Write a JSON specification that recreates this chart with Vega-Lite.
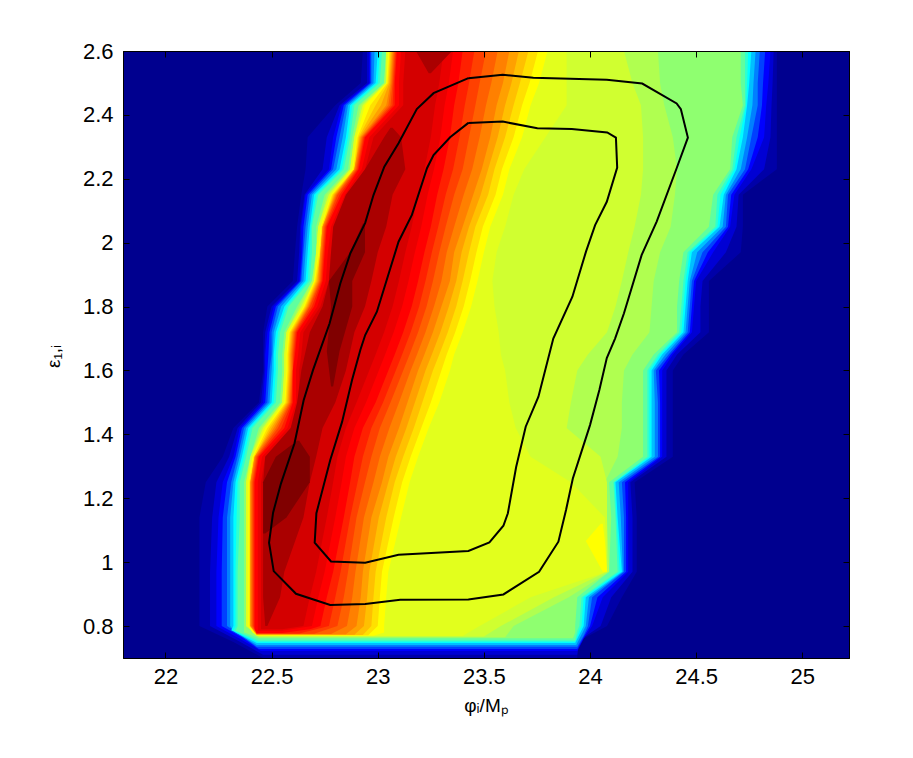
{"$schema":"https://vega.github.io/schema/vega-lite/v6.json","width":726,"height":607,"autosize":"none","padding":{"left":123,"top":51,"right":64,"bottom":100},"background":"white","view":{"fill":"#00008f","stroke":"black"},"config":{"font":"Liberation Sans"},
"datasets":{"levels":[
{"level":"a","y":0.7,"xl":22.46,"xr":23.94},{"level":"a","y":0.75,"xl":22.32,"xr":23.94},{"level":"a","y":0.8,"xl":22.16,"xr":24.08},{"level":"a","y":0.89,"xl":22.16,"xr":24.15},{"level":"a","y":0.97,"xl":22.16,"xr":24.22},{"level":"a","y":1.14,"xl":22.16,"xr":24.22},{"level":"a","y":1.25,"xl":22.19,"xr":24.21},{"level":"a","y":1.33,"xl":22.27,"xr":24.39},{"level":"a","y":1.42,"xl":22.32,"xr":24.39},{"level":"a","y":1.5,"xl":22.44,"xr":24.39},{"level":"a","y":1.6,"xl":22.46,"xr":24.39},{"level":"a","y":1.65,"xl":22.46,"xr":24.44},{"level":"a","y":1.72,"xl":22.46,"xr":24.56},{"level":"a","y":1.8,"xl":22.48,"xr":24.56},{"level":"a","y":1.88,"xl":22.6,"xr":24.56},{"level":"a","y":1.97,"xl":22.61,"xr":24.71},{"level":"a","y":2.05,"xl":22.62,"xr":24.72},{"level":"a","y":2.15,"xl":22.64,"xr":24.72},{"level":"a","y":2.23,"xl":22.66,"xr":24.88},{"level":"a","y":2.33,"xl":22.67,"xr":24.88},{"level":"a","y":2.43,"xl":22.8,"xr":24.88},{"level":"a","y":2.5,"xl":22.92,"xr":24.88},{"level":"a","y":2.6,"xl":22.93,"xr":24.88},
{"level":"a2","y":0.71,"xl":22.46,"xr":23.94},{"level":"a2","y":0.755,"xl":22.34,"xr":23.95},{"level":"a2","y":0.8,"xl":22.21,"xr":24.05},{"level":"a2","y":0.89,"xl":22.21,"xr":24.1},{"level":"a2","y":0.97,"xl":22.21,"xr":24.2},{"level":"a2","y":1.14,"xl":22.22,"xr":24.2},{"level":"a2","y":1.25,"xl":22.24,"xr":24.19},{"level":"a2","y":1.33,"xl":22.3,"xr":24.36},{"level":"a2","y":1.42,"xl":22.34,"xr":24.36},{"level":"a2","y":1.5,"xl":22.45,"xr":24.36},{"level":"a2","y":1.6,"xl":22.465,"xr":24.36},{"level":"a2","y":1.65,"xl":22.465,"xr":24.41},{"level":"a2","y":1.72,"xl":22.47,"xr":24.52},{"level":"a2","y":1.8,"xl":22.5,"xr":24.52},{"level":"a2","y":1.88,"xl":22.62,"xr":24.53},{"level":"a2","y":1.97,"xl":22.63,"xr":24.64},{"level":"a2","y":2.05,"xl":22.635,"xr":24.69},{"level":"a2","y":2.15,"xl":22.655,"xr":24.7},{"level":"a2","y":2.23,"xl":22.74,"xr":24.82},{"level":"a2","y":2.33,"xl":22.76,"xr":24.85},{"level":"a2","y":2.43,"xl":22.82,"xr":24.855},{"level":"a2","y":2.5,"xl":22.95,"xr":24.86},{"level":"a2","y":2.6,"xl":22.95,"xr":24.865},
{"level":"b","y":0.722,"xl":22.45,"xr":23.94},{"level":"b","y":0.76,"xl":22.35,"xr":23.97},{"level":"b","y":0.8,"xl":22.24,"xr":24.01},{"level":"b","y":0.89,"xl":22.24,"xr":24.06},{"level":"b","y":0.97,"xl":22.24,"xr":24.18},{"level":"b","y":1.14,"xl":22.25,"xr":24.18},{"level":"b","y":1.25,"xl":22.27,"xr":24.18},{"level":"b","y":1.33,"xl":22.32,"xr":24.34},{"level":"b","y":1.42,"xl":22.35,"xr":24.34},{"level":"b","y":1.5,"xl":22.46,"xr":24.34},{"level":"b","y":1.6,"xl":22.47,"xr":24.34},{"level":"b","y":1.65,"xl":22.47,"xr":24.39},{"level":"b","y":1.72,"xl":22.48,"xr":24.48},{"level":"b","y":1.8,"xl":22.51,"xr":24.49},{"level":"b","y":1.88,"xl":22.63,"xr":24.5},{"level":"b","y":1.97,"xl":22.64,"xr":24.58},{"level":"b","y":2.05,"xl":22.64,"xr":24.66},{"level":"b","y":2.15,"xl":22.66,"xr":24.68},{"level":"b","y":2.23,"xl":22.77,"xr":24.76},{"level":"b","y":2.33,"xl":22.79,"xr":24.82},{"level":"b","y":2.43,"xl":22.83,"xr":24.83},{"level":"b","y":2.5,"xl":22.96,"xr":24.84},{"level":"b","y":2.6,"xl":22.96,"xr":24.85},
{"level":"b2","y":0.728,"xl":22.44,"xr":23.94},{"level":"b2","y":0.765,"xl":22.36,"xr":23.97},{"level":"b2","y":0.8,"xl":22.265,"xr":24},{"level":"b2","y":0.89,"xl":22.265,"xr":24.035},{"level":"b2","y":0.97,"xl":22.265,"xr":24.17},{"level":"b2","y":1.14,"xl":22.27,"xr":24.17},{"level":"b2","y":1.25,"xl":22.29,"xr":24.165},{"level":"b2","y":1.33,"xl":22.33,"xr":24.33},{"level":"b2","y":1.42,"xl":22.36,"xr":24.33},{"level":"b2","y":1.5,"xl":22.47,"xr":24.33},{"level":"b2","y":1.6,"xl":22.48,"xr":24.325},{"level":"b2","y":1.65,"xl":22.485,"xr":24.38},{"level":"b2","y":1.72,"xl":22.49,"xr":24.47},{"level":"b2","y":1.8,"xl":22.52,"xr":24.48},{"level":"b2","y":1.88,"xl":22.635,"xr":24.49},{"level":"b2","y":1.97,"xl":22.645,"xr":24.555},{"level":"b2","y":2.05,"xl":22.65,"xr":24.65},{"level":"b2","y":2.15,"xl":22.67,"xr":24.665},{"level":"b2","y":2.23,"xl":22.78,"xr":24.745},{"level":"b2","y":2.33,"xl":22.805,"xr":24.79},{"level":"b2","y":2.43,"xl":22.84,"xr":24.81},{"level":"b2","y":2.5,"xl":22.965,"xr":24.815},{"level":"b2","y":2.6,"xl":22.965,"xr":24.825},
{"level":"c","y":0.735,"xl":22.43,"xr":23.94},{"level":"c","y":0.77,"xl":22.36,"xr":23.97},{"level":"c","y":0.8,"xl":22.29,"xr":23.99},{"level":"c","y":0.89,"xl":22.29,"xr":24.01},{"level":"c","y":0.97,"xl":22.29,"xr":24.16},{"level":"c","y":1.14,"xl":22.29,"xr":24.16},{"level":"c","y":1.25,"xl":22.31,"xr":24.15},{"level":"c","y":1.33,"xl":22.34,"xr":24.32},{"level":"c","y":1.42,"xl":22.37,"xr":24.32},{"level":"c","y":1.5,"xl":22.48,"xr":24.32},{"level":"c","y":1.6,"xl":22.49,"xr":24.31},{"level":"c","y":1.65,"xl":22.5,"xr":24.37},{"level":"c","y":1.72,"xl":22.5,"xr":24.46},{"level":"c","y":1.8,"xl":22.53,"xr":24.47},{"level":"c","y":1.88,"xl":22.64,"xr":24.48},{"level":"c","y":1.97,"xl":22.65,"xr":24.53},{"level":"c","y":2.05,"xl":22.66,"xr":24.64},{"level":"c","y":2.15,"xl":22.68,"xr":24.65},{"level":"c","y":2.23,"xl":22.79,"xr":24.73},{"level":"c","y":2.33,"xl":22.82,"xr":24.76},{"level":"c","y":2.43,"xl":22.85,"xr":24.79},{"level":"c","y":2.5,"xl":22.97,"xr":24.79},{"level":"c","y":2.6,"xl":22.97,"xr":24.8},
{"level":"c2","y":0.741,"xl":22.43,"xr":23.935},{"level":"c2","y":0.78,"xl":22.33,"xr":23.965},{"level":"c2","y":0.8,"xl":22.305,"xr":23.98},{"level":"c2","y":0.89,"xl":22.305,"xr":23.995},{"level":"c2","y":0.97,"xl":22.305,"xr":24.155},{"level":"c2","y":1.14,"xl":22.305,"xr":24.145},{"level":"c2","y":1.25,"xl":22.32,"xr":24.135},{"level":"c2","y":1.33,"xl":22.35,"xr":24.305},{"level":"c2","y":1.42,"xl":22.38,"xr":24.305},{"level":"c2","y":1.5,"xl":22.49,"xr":24.305},{"level":"c2","y":1.6,"xl":22.5,"xr":24.3},{"level":"c2","y":1.65,"xl":22.505,"xr":24.355},{"level":"c2","y":1.72,"xl":22.51,"xr":24.45},{"level":"c2","y":1.8,"xl":22.545,"xr":24.46},{"level":"c2","y":1.88,"xl":22.65,"xr":24.47},{"level":"c2","y":1.97,"xl":22.66,"xr":24.505},{"level":"c2","y":2.05,"xl":22.67,"xr":24.625},{"level":"c2","y":2.15,"xl":22.69,"xr":24.64},{"level":"c2","y":2.23,"xl":22.805,"xr":24.71},{"level":"c2","y":2.33,"xl":22.835,"xr":24.74},{"level":"c2","y":2.43,"xl":22.86,"xr":24.765},{"level":"c2","y":2.5,"xl":22.98,"xr":24.77},{"level":"c2","y":2.6,"xl":22.985,"xr":24.78},
{"level":"d","y":0.747,"xl":22.43,"xr":23.93},{"level":"d","y":0.787,"xl":22.31,"xr":23.96},{"level":"d","y":0.8,"xl":22.32,"xr":23.97},{"level":"d","y":0.89,"xl":22.32,"xr":23.98},{"level":"d","y":0.97,"xl":22.32,"xr":24.15},{"level":"d","y":1.14,"xl":22.32,"xr":24.13},{"level":"d","y":1.25,"xl":22.33,"xr":24.12},{"level":"d","y":1.33,"xl":22.36,"xr":24.29},{"level":"d","y":1.42,"xl":22.39,"xr":24.29},{"level":"d","y":1.5,"xl":22.5,"xr":24.29},{"level":"d","y":1.6,"xl":22.51,"xr":24.29},{"level":"d","y":1.65,"xl":22.51,"xr":24.34},{"level":"d","y":1.72,"xl":22.52,"xr":24.44},{"level":"d","y":1.8,"xl":22.56,"xr":24.45},{"level":"d","y":1.88,"xl":22.66,"xr":24.46},{"level":"d","y":1.97,"xl":22.67,"xr":24.48},{"level":"d","y":2.05,"xl":22.68,"xr":24.61},{"level":"d","y":2.15,"xl":22.7,"xr":24.63},{"level":"d","y":2.23,"xl":22.82,"xr":24.69},{"level":"d","y":2.33,"xl":22.85,"xr":24.72},{"level":"d","y":2.43,"xl":22.87,"xr":24.74},{"level":"d","y":2.5,"xl":22.99,"xr":24.75},{"level":"d","y":2.6,"xl":23,"xr":24.76},
{"level":"d2","y":0.751,"xl":22.435,"xr":23.93},{"level":"d2","y":0.786,"xl":22.32,"xr":23.95},{"level":"d2","y":0.8,"xl":22.33,"xr":23.96},{"level":"d2","y":0.89,"xl":22.33,"xr":23.97},{"level":"d2","y":0.97,"xl":22.33,"xr":24.14},{"level":"d2","y":1.14,"xl":22.335,"xr":24.125},{"level":"d2","y":1.25,"xl":22.34,"xr":24.115},{"level":"d2","y":1.33,"xl":22.37,"xr":24.28},{"level":"d2","y":1.42,"xl":22.4,"xr":24.28},{"level":"d2","y":1.5,"xl":22.51,"xr":24.28},{"level":"d2","y":1.6,"xl":22.52,"xr":24.28},{"level":"d2","y":1.65,"xl":22.52,"xr":24.33},{"level":"d2","y":1.72,"xl":22.53,"xr":24.43},{"level":"d2","y":1.8,"xl":22.57,"xr":24.44},{"level":"d2","y":1.88,"xl":22.67,"xr":24.45},{"level":"d2","y":1.97,"xl":22.68,"xr":24.47},{"level":"d2","y":2.05,"xl":22.685,"xr":24.6},{"level":"d2","y":2.15,"xl":22.71,"xr":24.615},{"level":"d2","y":2.23,"xl":22.83,"xr":24.68},{"level":"d2","y":2.33,"xl":22.86,"xr":24.705},{"level":"d2","y":2.43,"xl":22.88,"xr":24.735},{"level":"d2","y":2.5,"xl":23,"xr":24.74},{"level":"d2","y":2.6,"xl":23.01,"xr":24.745},
{"level":"e","y":0.755,"xl":22.44,"xr":23.93},{"level":"e","y":0.785,"xl":22.33,"xr":23.94},{"level":"e","y":0.8,"xl":22.34,"xr":23.95},{"level":"e","y":0.89,"xl":22.34,"xr":23.96},{"level":"e","y":0.97,"xl":22.34,"xr":24.13},{"level":"e","y":1.14,"xl":22.35,"xr":24.12},{"level":"e","y":1.25,"xl":22.35,"xr":24.11},{"level":"e","y":1.33,"xl":22.38,"xr":24.27},{"level":"e","y":1.42,"xl":22.41,"xr":24.27},{"level":"e","y":1.5,"xl":22.52,"xr":24.27},{"level":"e","y":1.6,"xl":22.53,"xr":24.27},{"level":"e","y":1.65,"xl":22.53,"xr":24.32},{"level":"e","y":1.72,"xl":22.54,"xr":24.42},{"level":"e","y":1.8,"xl":22.58,"xr":24.43},{"level":"e","y":1.88,"xl":22.68,"xr":24.44},{"level":"e","y":1.97,"xl":22.69,"xr":24.46},{"level":"e","y":2.05,"xl":22.69,"xr":24.59},{"level":"e","y":2.15,"xl":22.72,"xr":24.6},{"level":"e","y":2.23,"xl":22.84,"xr":24.67},{"level":"e","y":2.33,"xl":22.87,"xr":24.69},{"level":"e","y":2.43,"xl":22.89,"xr":24.73},{"level":"e","y":2.5,"xl":23.01,"xr":24.73},{"level":"e","y":2.6,"xl":23.02,"xr":24.73},
{"level":"f","y":0.762,"xl":22.44,"xr":23.92},{"level":"f","y":0.78,"xl":22.37,"xr":23.93},{"level":"f","y":0.8,"xl":22.37,"xr":23.93},{"level":"f","y":0.89,"xl":22.37,"xr":23.94},{"level":"f","y":0.97,"xl":22.37,"xr":24.09},{"level":"f","y":1.14,"xl":22.37,"xr":24.1},{"level":"f","y":1.25,"xl":22.37,"xr":24.09},{"level":"f","y":1.33,"xl":22.4,"xr":24.25},{"level":"f","y":1.42,"xl":22.44,"xr":24.25},{"level":"f","y":1.5,"xl":22.54,"xr":24.25},{"level":"f","y":1.6,"xl":22.55,"xr":24.25},{"level":"f","y":1.65,"xl":22.55,"xr":24.3},{"level":"f","y":1.72,"xl":22.56,"xr":24.41},{"level":"f","y":1.8,"xl":22.62,"xr":24.41},{"level":"f","y":1.88,"xl":22.69,"xr":24.42},{"level":"f","y":1.97,"xl":22.71,"xr":24.44},{"level":"f","y":2.05,"xl":22.71,"xr":24.56},{"level":"f","y":2.15,"xl":22.75,"xr":24.58},{"level":"f","y":2.23,"xl":22.86,"xr":24.66},{"level":"f","y":2.33,"xl":22.88,"xr":24.67},{"level":"f","y":2.43,"xl":22.91,"xr":24.72},{"level":"f","y":2.5,"xl":23.03,"xr":24.71},{"level":"f","y":2.6,"xl":23.04,"xr":24.71},
{"level":"g","y":0.765,"xl":22.44,"xr":23.6},{"level":"g","y":0.8,"xl":22.38,"xr":23.64},{"level":"g","y":0.89,"xl":22.38,"xr":23.9},{"level":"g","y":0.97,"xl":22.38,"xr":24.09},{"level":"g","y":1.14,"xl":22.38,"xr":24.08},{"level":"g","y":1.25,"xl":22.38,"xr":24.07},{"level":"g","y":1.33,"xl":22.4,"xr":24.13},{"level":"g","y":1.42,"xl":22.45,"xr":24.15},{"level":"g","y":1.5,"xl":22.55,"xr":24.15},{"level":"g","y":1.6,"xl":22.56,"xr":24.16},{"level":"g","y":1.65,"xl":22.56,"xr":24.2},{"level":"g","y":1.72,"xl":22.57,"xr":24.28},{"level":"g","y":1.8,"xl":22.63,"xr":24.29},{"level":"g","y":1.88,"xl":22.69,"xr":24.3},{"level":"g","y":1.97,"xl":22.71,"xr":24.33},{"level":"g","y":2.05,"xl":22.72,"xr":24.38},{"level":"g","y":2.15,"xl":22.76,"xr":24.4},{"level":"g","y":2.23,"xl":22.87,"xr":24.41},{"level":"g","y":2.33,"xl":22.89,"xr":24.39},{"level":"g","y":2.43,"xl":22.92,"xr":24.35},{"level":"g","y":2.5,"xl":23.03,"xr":24.33},{"level":"g","y":2.6,"xl":23.04,"xr":24.32},
{"level":"h","y":0.767,"xl":22.44,"xr":23.5},{"level":"h","y":0.8,"xl":22.38,"xr":23.58},{"level":"h","y":0.89,"xl":22.38,"xr":23.83},{"level":"h","y":0.97,"xl":22.38,"xr":24.08},{"level":"h","y":1.14,"xl":22.38,"xr":24.08},{"level":"h","y":1.25,"xl":22.38,"xr":24.08},{"level":"h","y":1.33,"xl":22.4,"xr":24.05},{"level":"h","y":1.42,"xl":22.46,"xr":23.89},{"level":"h","y":1.5,"xl":22.55,"xr":23.91},{"level":"h","y":1.6,"xl":22.56,"xr":23.94},{"level":"h","y":1.65,"xl":22.56,"xr":23.99},{"level":"h","y":1.72,"xl":22.57,"xr":24.08},{"level":"h","y":1.8,"xl":22.64,"xr":24.12},{"level":"h","y":1.88,"xl":22.7,"xr":24.15},{"level":"h","y":1.97,"xl":22.71,"xr":24.18},{"level":"h","y":2.05,"xl":22.72,"xr":24.21},{"level":"h","y":2.15,"xl":22.77,"xr":24.24},{"level":"h","y":2.23,"xl":22.87,"xr":24.25},{"level":"h","y":2.33,"xl":22.89,"xr":24.25},{"level":"h","y":2.43,"xl":22.93,"xr":24.24},{"level":"h","y":2.5,"xl":23.04,"xr":24.2},{"level":"h","y":2.6,"xl":23.04,"xr":24.16},
{"level":"i","y":0.769,"xl":22.44,"xr":23.4},{"level":"i","y":0.8,"xl":22.38,"xr":23.48},{"level":"i","y":0.89,"xl":22.38,"xr":23.72},{"level":"i","y":0.97,"xl":22.38,"xr":24.08},{"level":"i","y":1.14,"xl":22.38,"xr":24.07},{"level":"i","y":1.25,"xl":22.38,"xr":23.91},{"level":"i","y":1.33,"xl":22.41,"xr":23.72},{"level":"i","y":1.42,"xl":22.46,"xr":23.65},{"level":"i","y":1.5,"xl":22.55,"xr":23.62},{"level":"i","y":1.6,"xl":22.56,"xr":23.6},{"level":"i","y":1.65,"xl":22.56,"xr":23.58},{"level":"i","y":1.72,"xl":22.57,"xr":23.57},{"level":"i","y":1.8,"xl":22.64,"xr":23.55},{"level":"i","y":1.88,"xl":22.7,"xr":23.54},{"level":"i","y":1.97,"xl":22.71,"xr":23.56},{"level":"i","y":2.05,"xl":22.72,"xr":23.6},{"level":"i","y":2.15,"xl":22.77,"xr":23.64},{"level":"i","y":2.23,"xl":22.87,"xr":23.69},{"level":"i","y":2.33,"xl":22.89,"xr":23.79},{"level":"i","y":2.43,"xl":22.93,"xr":23.89},{"level":"i","y":2.5,"xl":23.04,"xr":23.89},{"level":"i","y":2.6,"xl":23.04,"xr":23.89},
{"level":"j","y":0.77,"xl":22.43,"xr":22.98},{"level":"j","y":0.78,"xl":22.41,"xr":23.03},{"level":"j","y":0.8,"xl":22.39,"xr":23.03},{"level":"j","y":0.89,"xl":22.39,"xr":23.04},{"level":"j","y":0.97,"xl":22.39,"xr":23.05},{"level":"j","y":1.14,"xl":22.39,"xr":23.11},{"level":"j","y":1.25,"xl":22.39,"xr":23.15},{"level":"j","y":1.33,"xl":22.41,"xr":23.19},{"level":"j","y":1.42,"xl":22.47,"xr":23.24},{"level":"j","y":1.5,"xl":22.56,"xr":23.29},{"level":"j","y":1.6,"xl":22.57,"xr":23.34},{"level":"j","y":1.65,"xl":22.57,"xr":23.36},{"level":"j","y":1.72,"xl":22.58,"xr":23.4},{"level":"j","y":1.8,"xl":22.65,"xr":23.44},{"level":"j","y":1.88,"xl":22.7,"xr":23.47},{"level":"j","y":1.97,"xl":22.72,"xr":23.5},{"level":"j","y":2.05,"xl":22.73,"xr":23.53},{"level":"j","y":2.15,"xl":22.78,"xr":23.59},{"level":"j","y":2.23,"xl":22.88,"xr":23.62},{"level":"j","y":2.33,"xl":22.9,"xr":23.68},{"level":"j","y":2.43,"xl":22.94,"xr":23.72},{"level":"j","y":2.5,"xl":23.04,"xr":23.76},{"level":"j","y":2.6,"xl":23.05,"xr":23.8},
{"level":"j2","y":0.97,"xl":24.06,"xr":24.08},{"level":"j2","y":1.066,"xl":23.98,"xr":24.07},{"level":"j2","y":1.12,"xl":24.05,"xr":24.06},
{"level":"jk","y":0.771,"xl":22.43,"xr":22.955},{"level":"jk","y":0.8,"xl":22.395,"xr":23},{"level":"jk","y":0.89,"xl":22.395,"xr":23.01},{"level":"jk","y":0.97,"xl":22.395,"xr":23.02},{"level":"jk","y":1.14,"xl":22.395,"xr":23.075},{"level":"jk","y":1.25,"xl":22.395,"xr":23.115},{"level":"jk","y":1.33,"xl":22.415,"xr":23.155},{"level":"jk","y":1.42,"xl":22.48,"xr":23.205},{"level":"jk","y":1.5,"xl":22.565,"xr":23.25},{"level":"jk","y":1.6,"xl":22.575,"xr":23.3},{"level":"jk","y":1.65,"xl":22.575,"xr":23.325},{"level":"jk","y":1.72,"xl":22.585,"xr":23.365},{"level":"jk","y":1.8,"xl":22.655,"xr":23.405},{"level":"jk","y":1.88,"xl":22.705,"xr":23.435},{"level":"jk","y":1.97,"xl":22.725,"xr":23.465},{"level":"jk","y":2.05,"xl":22.735,"xr":23.495},{"level":"jk","y":2.15,"xl":22.785,"xr":23.555},{"level":"jk","y":2.23,"xl":22.885,"xr":23.585},{"level":"jk","y":2.33,"xl":22.905,"xr":23.64},{"level":"jk","y":2.43,"xl":22.965,"xr":23.68},{"level":"jk","y":2.5,"xl":23.045,"xr":23.715},{"level":"jk","y":2.6,"xl":23.055,"xr":23.755},
{"level":"k","y":0.772,"xl":22.43,"xr":22.93},{"level":"k","y":0.8,"xl":22.4,"xr":22.97},{"level":"k","y":0.89,"xl":22.4,"xr":22.98},{"level":"k","y":0.97,"xl":22.4,"xr":22.99},{"level":"k","y":1.14,"xl":22.4,"xr":23.04},{"level":"k","y":1.25,"xl":22.4,"xr":23.08},{"level":"k","y":1.33,"xl":22.42,"xr":23.12},{"level":"k","y":1.42,"xl":22.49,"xr":23.17},{"level":"k","y":1.5,"xl":22.57,"xr":23.21},{"level":"k","y":1.6,"xl":22.58,"xr":23.26},{"level":"k","y":1.65,"xl":22.58,"xr":23.29},{"level":"k","y":1.72,"xl":22.59,"xr":23.33},{"level":"k","y":1.8,"xl":22.66,"xr":23.37},{"level":"k","y":1.88,"xl":22.71,"xr":23.4},{"level":"k","y":1.97,"xl":22.73,"xr":23.43},{"level":"k","y":2.05,"xl":22.74,"xr":23.46},{"level":"k","y":2.15,"xl":22.79,"xr":23.52},{"level":"k","y":2.23,"xl":22.89,"xr":23.55},{"level":"k","y":2.33,"xl":22.91,"xr":23.6},{"level":"k","y":2.43,"xl":22.99,"xr":23.64},{"level":"k","y":2.5,"xl":23.05,"xr":23.67},{"level":"k","y":2.6,"xl":23.06,"xr":23.71},
{"level":"kl","y":0.773,"xl":22.43,"xr":22.89},{"level":"kl","y":0.8,"xl":22.4,"xr":22.935},{"level":"kl","y":0.89,"xl":22.4,"xr":22.95},{"level":"kl","y":0.97,"xl":22.4,"xr":22.96},{"level":"kl","y":1.14,"xl":22.4,"xr":23.005},{"level":"kl","y":1.25,"xl":22.4,"xr":23.05},{"level":"kl","y":1.33,"xl":22.42,"xr":23.085},{"level":"kl","y":1.42,"xl":22.5,"xr":23.135},{"level":"kl","y":1.5,"xl":22.575,"xr":23.175},{"level":"kl","y":1.6,"xl":22.585,"xr":23.225},{"level":"kl","y":1.65,"xl":22.585,"xr":23.255},{"level":"kl","y":1.72,"xl":22.595,"xr":23.295},{"level":"kl","y":1.8,"xl":22.665,"xr":23.335},{"level":"kl","y":1.88,"xl":22.715,"xr":23.37},{"level":"kl","y":1.97,"xl":22.73,"xr":23.395},{"level":"kl","y":2.05,"xl":22.74,"xr":23.43},{"level":"kl","y":2.15,"xl":22.795,"xr":23.485},{"level":"kl","y":2.23,"xl":22.89,"xr":23.52},{"level":"kl","y":2.33,"xl":22.915,"xr":23.565},{"level":"kl","y":2.43,"xl":23.015,"xr":23.6},{"level":"kl","y":2.5,"xl":23.055,"xr":23.63},{"level":"kl","y":2.6,"xl":23.065,"xr":23.665},
{"level":"l","y":0.774,"xl":22.43,"xr":22.85},{"level":"l","y":0.8,"xl":22.4,"xr":22.9},{"level":"l","y":0.89,"xl":22.4,"xr":22.92},{"level":"l","y":0.97,"xl":22.4,"xr":22.93},{"level":"l","y":1.14,"xl":22.4,"xr":22.97},{"level":"l","y":1.25,"xl":22.4,"xr":23.02},{"level":"l","y":1.33,"xl":22.42,"xr":23.05},{"level":"l","y":1.42,"xl":22.51,"xr":23.1},{"level":"l","y":1.5,"xl":22.58,"xr":23.14},{"level":"l","y":1.6,"xl":22.59,"xr":23.19},{"level":"l","y":1.65,"xl":22.59,"xr":23.22},{"level":"l","y":1.72,"xl":22.6,"xr":23.26},{"level":"l","y":1.8,"xl":22.67,"xr":23.3},{"level":"l","y":1.88,"xl":22.72,"xr":23.34},{"level":"l","y":1.97,"xl":22.73,"xr":23.36},{"level":"l","y":2.05,"xl":22.74,"xr":23.4},{"level":"l","y":2.15,"xl":22.8,"xr":23.45},{"level":"l","y":2.23,"xl":22.89,"xr":23.49},{"level":"l","y":2.33,"xl":22.92,"xr":23.53},{"level":"l","y":2.43,"xl":23.04,"xr":23.56},{"level":"l","y":2.5,"xl":23.06,"xr":23.59},{"level":"l","y":2.6,"xl":23.07,"xr":23.62},
{"level":"lm","y":0.775,"xl":22.43,"xr":22.78},{"level":"lm","y":0.8,"xl":22.405,"xr":22.855},{"level":"lm","y":0.89,"xl":22.405,"xr":22.88},{"level":"lm","y":0.97,"xl":22.405,"xr":22.895},{"level":"lm","y":1.14,"xl":22.405,"xr":22.935},{"level":"lm","y":1.25,"xl":22.405,"xr":22.98},{"level":"lm","y":1.33,"xl":22.425,"xr":23.01},{"level":"lm","y":1.42,"xl":22.52,"xr":23.055},{"level":"lm","y":1.5,"xl":22.585,"xr":23.1},{"level":"lm","y":1.6,"xl":22.595,"xr":23.155},{"level":"lm","y":1.65,"xl":22.595,"xr":23.185},{"level":"lm","y":1.72,"xl":22.605,"xr":23.225},{"level":"lm","y":1.8,"xl":22.675,"xr":23.265},{"level":"lm","y":1.88,"xl":22.725,"xr":23.3},{"level":"lm","y":1.97,"xl":22.735,"xr":23.325},{"level":"lm","y":2.05,"xl":22.745,"xr":23.36},{"level":"lm","y":2.15,"xl":22.805,"xr":23.405},{"level":"lm","y":2.23,"xl":22.895,"xr":23.445},{"level":"lm","y":2.33,"xl":22.925,"xr":23.48},{"level":"lm","y":2.43,"xl":23.05,"xr":23.51},{"level":"lm","y":2.5,"xl":23.065,"xr":23.535},{"level":"lm","y":2.6,"xl":23.075,"xr":23.565},
{"level":"m","y":0.776,"xl":22.43,"xr":22.7},{"level":"m","y":0.8,"xl":22.41,"xr":22.81},{"level":"m","y":0.89,"xl":22.41,"xr":22.84},{"level":"m","y":0.97,"xl":22.41,"xr":22.86},{"level":"m","y":1.14,"xl":22.41,"xr":22.9},{"level":"m","y":1.25,"xl":22.41,"xr":22.94},{"level":"m","y":1.33,"xl":22.43,"xr":22.97},{"level":"m","y":1.42,"xl":22.53,"xr":23.01},{"level":"m","y":1.5,"xl":22.59,"xr":23.06},{"level":"m","y":1.6,"xl":22.6,"xr":23.12},{"level":"m","y":1.65,"xl":22.6,"xr":23.15},{"level":"m","y":1.72,"xl":22.61,"xr":23.19},{"level":"m","y":1.8,"xl":22.68,"xr":23.23},{"level":"m","y":1.88,"xl":22.73,"xr":23.26},{"level":"m","y":1.97,"xl":22.74,"xr":23.29},{"level":"m","y":2.05,"xl":22.75,"xr":23.32},{"level":"m","y":2.15,"xl":22.81,"xr":23.36},{"level":"m","y":2.23,"xl":22.9,"xr":23.4},{"level":"m","y":2.33,"xl":22.93,"xr":23.43},{"level":"m","y":2.43,"xl":23.06,"xr":23.46},{"level":"m","y":2.5,"xl":23.07,"xr":23.48},{"level":"m","y":2.6,"xl":23.08,"xr":23.51},
{"level":"mn","y":0.777,"xl":22.43,"xr":22.63},{"level":"mn","y":0.8,"xl":22.415,"xr":22.77},{"level":"mn","y":0.89,"xl":22.415,"xr":22.8},{"level":"mn","y":0.97,"xl":22.415,"xr":22.825},{"level":"mn","y":1.14,"xl":22.415,"xr":22.87},{"level":"mn","y":1.25,"xl":22.415,"xr":22.905},{"level":"mn","y":1.33,"xl":22.435,"xr":22.93},{"level":"mn","y":1.42,"xl":22.545,"xr":22.97},{"level":"mn","y":1.5,"xl":22.595,"xr":23.025},{"level":"mn","y":1.6,"xl":22.6,"xr":23.085},{"level":"mn","y":1.65,"xl":22.605,"xr":23.115},{"level":"mn","y":1.72,"xl":22.615,"xr":23.155},{"level":"mn","y":1.8,"xl":22.69,"xr":23.195},{"level":"mn","y":1.88,"xl":22.735,"xr":23.225},{"level":"mn","y":1.97,"xl":22.745,"xr":23.255},{"level":"mn","y":2.05,"xl":22.755,"xr":23.285},{"level":"mn","y":2.15,"xl":22.82,"xr":23.32},{"level":"mn","y":2.23,"xl":22.905,"xr":23.355},{"level":"mn","y":2.33,"xl":22.935,"xr":23.385},{"level":"mn","y":2.43,"xl":23.07,"xr":23.41},{"level":"mn","y":2.5,"xl":23.075,"xr":23.43},{"level":"mn","y":2.6,"xl":23.085,"xr":23.455},
{"level":"n","y":0.778,"xl":22.43,"xr":22.55},{"level":"n","y":0.79,"xl":22.42,"xr":22.68},{"level":"n","y":0.8,"xl":22.42,"xr":22.73},{"level":"n","y":0.89,"xl":22.42,"xr":22.76},{"level":"n","y":0.97,"xl":22.42,"xr":22.79},{"level":"n","y":1.14,"xl":22.42,"xr":22.84},{"level":"n","y":1.25,"xl":22.42,"xr":22.87},{"level":"n","y":1.33,"xl":22.44,"xr":22.89},{"level":"n","y":1.42,"xl":22.56,"xr":22.93},{"level":"n","y":1.5,"xl":22.6,"xr":22.99},{"level":"n","y":1.6,"xl":22.6,"xr":23.05},{"level":"n","y":1.65,"xl":22.61,"xr":23.08},{"level":"n","y":1.72,"xl":22.62,"xr":23.12},{"level":"n","y":1.8,"xl":22.7,"xr":23.16},{"level":"n","y":1.88,"xl":22.74,"xr":23.19},{"level":"n","y":1.97,"xl":22.75,"xr":23.22},{"level":"n","y":2.05,"xl":22.76,"xr":23.25},{"level":"n","y":2.15,"xl":22.83,"xr":23.28},{"level":"n","y":2.23,"xl":22.91,"xr":23.31},{"level":"n","y":2.33,"xl":22.94,"xr":23.34},{"level":"n","y":2.43,"xl":23.08,"xr":23.36},{"level":"n","y":2.5,"xl":23.08,"xr":23.38},{"level":"n","y":2.6,"xl":23.09,"xr":23.4},
{"level":"no","y":0.785,"xl":22.435,"xr":22.55},{"level":"no","y":0.8,"xl":22.435,"xr":22.69},{"level":"no","y":0.89,"xl":22.435,"xr":22.72},{"level":"no","y":0.97,"xl":22.435,"xr":22.75},{"level":"no","y":1.14,"xl":22.435,"xr":22.8},{"level":"no","y":1.25,"xl":22.435,"xr":22.83},{"level":"no","y":1.33,"xl":22.455,"xr":22.85},{"level":"no","y":1.42,"xl":22.575,"xr":22.89},{"level":"no","y":1.5,"xl":22.615,"xr":22.945},{"level":"no","y":1.6,"xl":22.615,"xr":23.005},{"level":"no","y":1.65,"xl":22.625,"xr":23.035},{"level":"no","y":1.72,"xl":22.635,"xr":23.075},{"level":"no","y":1.8,"xl":22.715,"xr":23.115},{"level":"no","y":1.88,"xl":22.755,"xr":23.145},{"level":"no","y":1.97,"xl":22.765,"xr":23.175},{"level":"no","y":2.05,"xl":22.78,"xr":23.205},{"level":"no","y":2.15,"xl":22.845,"xr":23.235},{"level":"no","y":2.23,"xl":22.925,"xr":23.265},{"level":"no","y":2.33,"xl":22.96,"xr":23.295},{"level":"no","y":2.43,"xl":23.1,"xr":23.315},{"level":"no","y":2.5,"xl":23.1,"xr":23.335},{"level":"no","y":2.6,"xl":23.11,"xr":23.355},
{"level":"o","y":0.79,"xl":22.45,"xr":22.55},{"level":"o","y":0.8,"xl":22.45,"xr":22.65},{"level":"o","y":0.89,"xl":22.45,"xr":22.68},{"level":"o","y":0.97,"xl":22.45,"xr":22.71},{"level":"o","y":1.14,"xl":22.45,"xr":22.76},{"level":"o","y":1.25,"xl":22.45,"xr":22.79},{"level":"o","y":1.33,"xl":22.47,"xr":22.81},{"level":"o","y":1.42,"xl":22.59,"xr":22.85},{"level":"o","y":1.5,"xl":22.63,"xr":22.9},{"level":"o","y":1.6,"xl":22.63,"xr":22.96},{"level":"o","y":1.65,"xl":22.64,"xr":22.99},{"level":"o","y":1.72,"xl":22.65,"xr":23.03},{"level":"o","y":1.8,"xl":22.73,"xr":23.07},{"level":"o","y":1.88,"xl":22.77,"xr":23.1},{"level":"o","y":1.97,"xl":22.78,"xr":23.13},{"level":"o","y":2.05,"xl":22.8,"xr":23.16},{"level":"o","y":2.15,"xl":22.86,"xr":23.19},{"level":"o","y":2.23,"xl":22.94,"xr":23.22},{"level":"o","y":2.33,"xl":22.98,"xr":23.25},{"level":"o","y":2.43,"xl":23.12,"xr":23.27},{"level":"o","y":2.5,"xl":23.12,"xr":23.29},{"level":"o","y":2.6,"xl":23.13,"xr":23.31},
{"level":"p1","y":2.53,"xl":23.24,"xr":23.25},{"level":"p1","y":2.6,"xl":23.18,"xr":23.35},
{"level":"p2","y":0.8,"xl":22.47,"xr":22.48},{"level":"p2","y":0.89,"xl":22.46,"xr":22.54},{"level":"p2","y":0.97,"xl":22.46,"xr":22.56},{"level":"p2","y":1.14,"xl":22.46,"xr":22.65},{"level":"p2","y":1.25,"xl":22.46,"xr":22.68},{"level":"p2","y":1.33,"xl":22.47,"xr":22.71},{"level":"p2","y":1.42,"xl":22.59,"xr":22.74},{"level":"p2","y":1.5,"xl":22.62,"xr":22.8},{"level":"p2","y":1.6,"xl":22.64,"xr":22.85},{"level":"p2","y":1.72,"xl":22.68,"xr":22.89},{"level":"p2","y":1.8,"xl":22.74,"xr":22.94},{"level":"p2","y":1.88,"xl":22.77,"xr":22.97},{"level":"p2","y":1.97,"xl":22.78,"xr":23},{"level":"p2","y":2.05,"xl":22.79,"xr":23.04},{"level":"p2","y":2.15,"xl":22.85,"xr":23.07},{"level":"p2","y":2.23,"xl":22.94,"xr":23.13},{"level":"p2","y":2.33,"xl":23.03,"xr":23.11},{"level":"p2","y":2.36,"xl":23.06,"xr":23.07},
{"level":"q1","y":1.55,"xl":22.78,"xr":22.79},{"level":"q1","y":1.66,"xl":22.76,"xr":22.82},{"level":"q1","y":1.8,"xl":22.78,"xr":22.88},{"level":"q1","y":1.88,"xl":22.77,"xr":22.88},{"level":"q1","y":1.97,"xl":22.87,"xr":22.94},{"level":"q1","y":2.06,"xl":22.93,"xr":22.94},
{"level":"q2","y":1.09,"xl":22.46,"xr":22.47},{"level":"q2","y":1.14,"xl":22.46,"xr":22.57},{"level":"q2","y":1.25,"xl":22.46,"xr":22.68},{"level":"q2","y":1.33,"xl":22.52,"xr":22.68},{"level":"q2","y":1.38,"xl":22.62,"xr":22.63}
],
"contours":[
{"c":"outer","i":0,"x":23.427,"y":2.515},{"c":"outer","i":1,"x":23.589,"y":2.526},{"c":"outer","i":2,"x":23.733,"y":2.516},{"c":"outer","i":3,"x":24.079,"y":2.51},{"c":"outer","i":4,"x":24.246,"y":2.498},{"c":"outer","i":5,"x":24.408,"y":2.436},{"c":"outer","i":6,"x":24.428,"y":2.418},{"c":"outer","i":7,"x":24.461,"y":2.329},{"c":"outer","i":8,"x":24.408,"y":2.233},{"c":"outer","i":9,"x":24.314,"y":2.066},{"c":"outer","i":10,"x":24.243,"y":1.961},{"c":"outer","i":11,"x":24.16,"y":1.779},{"c":"outer","i":12,"x":24.118,"y":1.7},{"c":"outer","i":13,"x":24.079,"y":1.639},{"c":"outer","i":14,"x":24.044,"y":1.539},{"c":"outer","i":15,"x":24,"y":1.429},{"c":"outer","i":16,"x":23.919,"y":1.262},{"c":"outer","i":17,"x":23.887,"y":1.163},{"c":"outer","i":18,"x":23.851,"y":1.064},{"c":"outer","i":19,"x":23.76,"y":0.97},{"c":"outer","i":20,"x":23.592,"y":0.899},{"c":"outer","i":21,"x":23.427,"y":0.883},{"c":"outer","i":22,"x":23.106,"y":0.882},{"c":"outer","i":23,"x":22.941,"y":0.869},{"c":"outer","i":24,"x":22.776,"y":0.866},{"c":"outer","i":25,"x":22.615,"y":0.901},{"c":"outer","i":26,"x":22.51,"y":0.972},{"c":"outer","i":27,"x":22.488,"y":1.061},{"c":"outer","i":28,"x":22.507,"y":1.155},{"c":"outer","i":29,"x":22.544,"y":1.246},{"c":"outer","i":30,"x":22.608,"y":1.372},{"c":"outer","i":31,"x":22.651,"y":1.507},{"c":"outer","i":32,"x":22.695,"y":1.601},{"c":"outer","i":33,"x":22.773,"y":1.747},{"c":"outer","i":34,"x":22.824,"y":1.873},{"c":"outer","i":35,"x":22.871,"y":1.967},{"c":"outer","i":36,"x":22.941,"y":2.062},{"c":"outer","i":37,"x":22.98,"y":2.149},{"c":"outer","i":38,"x":23.031,"y":2.238},{"c":"outer","i":39,"x":23.098,"y":2.311},{"c":"outer","i":40,"x":23.184,"y":2.418},{"c":"outer","i":41,"x":23.263,"y":2.468},{"c":"outer","i":42,"x":23.427,"y":2.515},
{"c":"inner","i":0,"x":23.427,"y":2.375},{"c":"inner","i":1,"x":23.589,"y":2.379},{"c":"inner","i":2,"x":23.752,"y":2.358},{"c":"inner","i":3,"x":23.914,"y":2.356},{"c":"inner","i":4,"x":24.081,"y":2.345},{"c":"inner","i":5,"x":24.122,"y":2.329},{"c":"inner","i":6,"x":24.128,"y":2.235},{"c":"inner","i":7,"x":24.079,"y":2.128},{"c":"inner","i":8,"x":24.024,"y":2.055},{"c":"inner","i":9,"x":23.981,"y":1.972},{"c":"inner","i":10,"x":23.917,"y":1.831},{"c":"inner","i":11,"x":23.827,"y":1.7},{"c":"inner","i":12,"x":23.757,"y":1.518},{"c":"inner","i":13,"x":23.697,"y":1.424},{"c":"inner","i":14,"x":23.652,"y":1.298},{"c":"inner","i":15,"x":23.613,"y":1.153},{"c":"inner","i":16,"x":23.592,"y":1.114},{"c":"inner","i":17,"x":23.526,"y":1.062},{"c":"inner","i":18,"x":23.427,"y":1.035},{"c":"inner","i":19,"x":23.098,"y":1.023},{"c":"inner","i":20,"x":22.941,"y":0.998},{"c":"inner","i":21,"x":22.78,"y":1.002},{"c":"inner","i":22,"x":22.703,"y":1.061},{"c":"inner","i":23,"x":22.711,"y":1.153},{"c":"inner","i":24,"x":22.776,"y":1.319},{"c":"inner","i":25,"x":22.832,"y":1.439},{"c":"inner","i":26,"x":22.879,"y":1.57},{"c":"inner","i":27,"x":22.918,"y":1.664},{"c":"inner","i":28,"x":22.941,"y":1.711},{"c":"inner","i":29,"x":22.996,"y":1.784},{"c":"inner","i":30,"x":23.098,"y":2.003},{"c":"inner","i":31,"x":23.161,"y":2.087},{"c":"inner","i":32,"x":23.232,"y":2.233},{"c":"inner","i":33,"x":23.263,"y":2.274},{"c":"inner","i":34,"x":23.341,"y":2.33},{"c":"inner","i":35,"x":23.427,"y":2.375}
]},
"layer":[
{"data":{"name":"levels"},"mark":{"type":"area","orient":"horizontal","clip":true},"encoding":{
"y":{"field":"y","type":"quantitative","scale":{"domain":[0.7,2.6],"nice":false,"zero":false},"axis":{"orient":"left","values":[0.8,1,1.2,1.4,1.6,1.8,2,2.2,2.4,2.6],"labelExpr":"''+datum.value","labelFontSize":22,"labelColor":"black","tickColor":"black","domainColor":"black","tickSize":-6,"labelPadding":16,"grid":false,"zindex":1,"title":"ε₁,ᵢ","titleFontSize":19,"titleFontWeight":"normal","titleX":-60,"titleY":305,"titleAngle":-90,"titleAnchor":"middle","titleAlign":"center"}},
"x":{"field":"xl","type":"quantitative","stack":null,"scale":{"domain":[21.8,25.22],"nice":false,"zero":false},"axis":{"orient":"bottom","values":[22,22.5,23,23.5,24,24.5,25],"labelExpr":"''+datum.value","labelFontSize":22,"labelColor":"black","tickColor":"black","domainColor":"black","tickSize":-6,"labelPadding":14,"grid":false,"zindex":1,"title":"φᵢ/Mₚ","titleFontSize":19,"titleFontWeight":"normal","titleY":38}},
"x2":{"field":"xr"},
"color":{"field":"level","type":"nominal","legend":null,"scale":{"domain":["a","a2","b","b2","c","c2","d","d2","e","f","g","h","i","j","j2","jk","k","kl","l","lm","m","mn","n","no","o","p1","p2","q1","q2"],"range":["#0000a8","#0000d4","#0000ff","#0040ff","#0080ff","#00c0ff","#00ffff","#30ffcf","#60ff9f","#8fff70","#b0ff50","#d0ff30","#e2ff1d","#ffff00","#ffff00","#ffe000","#ffc000","#ffa000","#ff8000","#ff6000","#ff4000","#ff2000","#ff0000","#ea0000","#d40000","#aa0000","#aa0000","#800000","#800000"]}}
}},
{"data":{"name":"contours"},"mark":{"type":"line","color":"black","strokeWidth":2,"clip":true},"encoding":{
"x":{"field":"x","type":"quantitative","axis":{"orient":"top","values":[22,22.5,23,23.5,24,24.5,25],"labels":false,"tickColor":"black","domainColor":"black","tickSize":-6,"grid":false,"zindex":1,"title":null}},
"y":{"field":"y","type":"quantitative","axis":{"orient":"right","values":[0.8,1,1.2,1.4,1.6,1.8,2,2.2,2.4,2.6],"labels":false,"tickColor":"black","domainColor":"black","tickSize":-6,"grid":false,"zindex":1,"title":null}},
"detail":{"field":"c"},"order":{"field":"i","type":"quantitative"}
}}
],
"resolve":{"axis":{"x":"independent","y":"independent"}}}
